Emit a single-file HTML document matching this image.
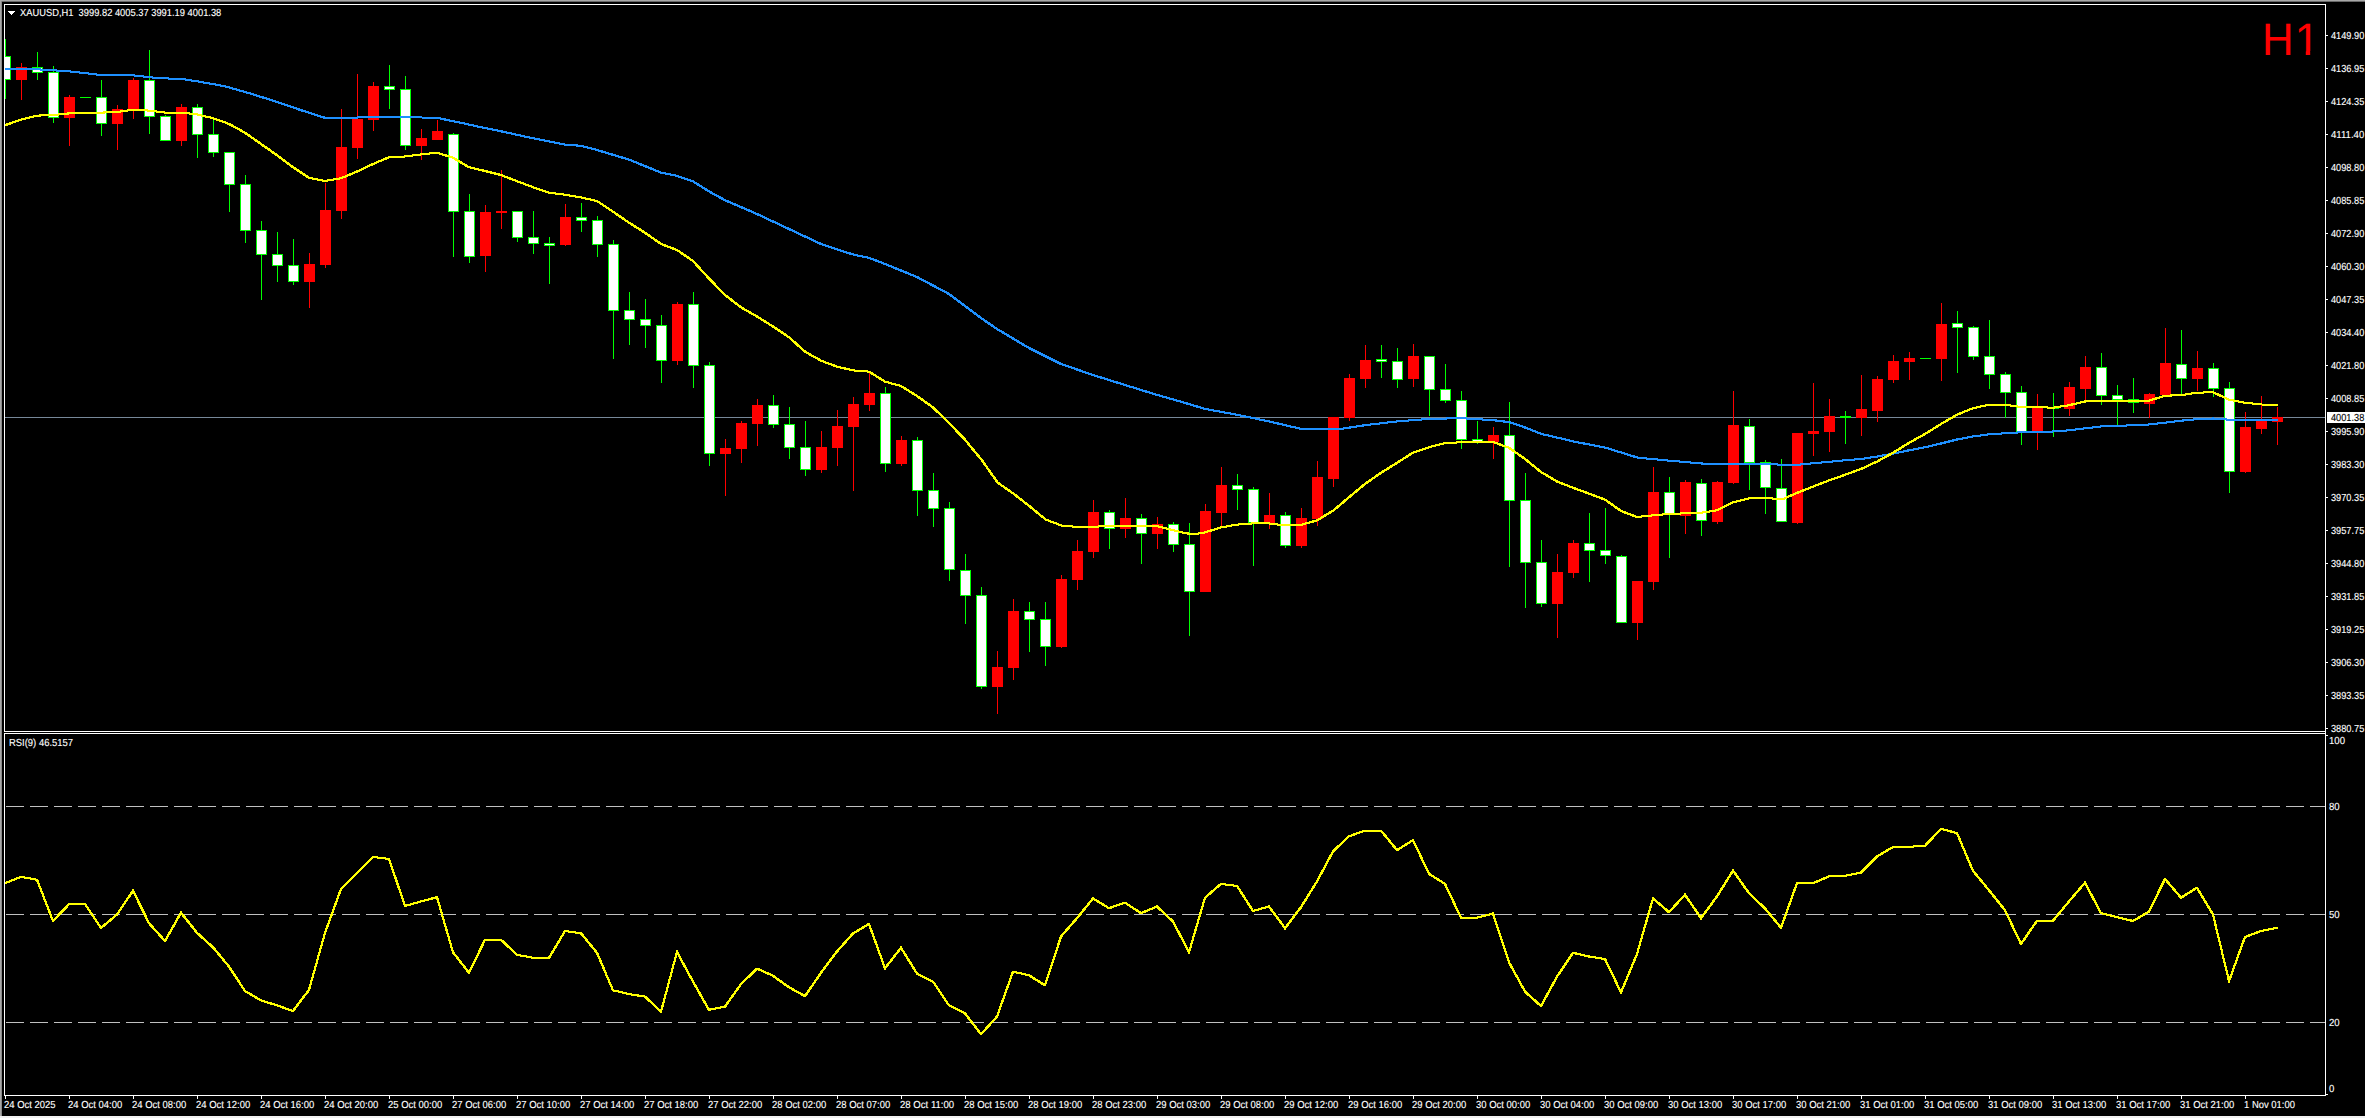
<!DOCTYPE html>
<html><head><meta charset="utf-8"><title>XAUUSD,H1</title>
<style>
html,body{margin:0;padding:0;background:#000;overflow:hidden}
svg{display:block}
text{text-rendering:geometricPrecision;font-family:"Liberation Sans",Arial,sans-serif;font-size:10.2px;fill:#fff;stroke:#fff;stroke-width:0.12px}
.h1{font-size:45.35px;fill:#f00;stroke:none}
.k{fill:#000;stroke:#000;stroke-width:0.12px}
</style></head><body>
<svg width="2365" height="1118" viewBox="0 0 2365 1118">
<rect x="0" y="0" width="2365" height="1118" fill="#000"/>
<g shape-rendering="crispEdges">
<rect x="0" y="0" width="2365" height="1" fill="#a8a8a8"/><rect x="1" y="1" width="2364" height="1" fill="#6a6a6a"/>
<rect x="0" y="0" width="1" height="1116" fill="#a8a8a8"/><rect x="1" y="1" width="1" height="1115" fill="#8a8a8a"/>
<rect x="0" y="1116" width="2365" height="2" fill="#f0f0f0"/>
<rect x="5" y="417" width="2320" height="1" fill="#778899"/>
<rect x="5" y="39" width="1" height="60" fill="#00ff00"/><rect x="5" y="56" width="6" height="24" fill="#00ff00"/><rect x="5" y="57" width="5" height="22" fill="#fff"/>
<rect x="21" y="63" width="1" height="37" fill="#ff0000"/><rect x="16" y="67" width="11" height="13" fill="#ff0000"/>
<rect x="37" y="52" width="1" height="28" fill="#00ff00"/><rect x="32" y="67" width="11" height="6" fill="#00ff00"/><rect x="33" y="68" width="9" height="4" fill="#fff"/>
<rect x="53" y="66" width="1" height="57" fill="#00ff00"/><rect x="48" y="72" width="11" height="46" fill="#00ff00"/><rect x="49" y="73" width="9" height="44" fill="#fff"/>
<rect x="69" y="95" width="1" height="51" fill="#ff0000"/><rect x="64" y="97" width="11" height="21" fill="#ff0000"/>
<rect x="80" y="97" width="11" height="1" fill="#00ff00"/><rect x="101" y="80" width="1" height="56" fill="#00ff00"/><rect x="96" y="97" width="11" height="27" fill="#00ff00"/><rect x="97" y="98" width="9" height="25" fill="#fff"/>
<rect x="117" y="105" width="1" height="45" fill="#ff0000"/><rect x="112" y="109" width="11" height="15" fill="#ff0000"/>
<rect x="133" y="78" width="1" height="41" fill="#ff0000"/><rect x="128" y="80" width="11" height="30" fill="#ff0000"/>
<rect x="149" y="50" width="1" height="84" fill="#00ff00"/><rect x="144" y="80" width="11" height="37" fill="#00ff00"/><rect x="145" y="81" width="9" height="35" fill="#fff"/>
<rect x="165" y="115" width="1" height="26" fill="#00ff00"/><rect x="160" y="116" width="11" height="25" fill="#00ff00"/><rect x="161" y="117" width="9" height="23" fill="#fff"/>
<rect x="181" y="104" width="1" height="42" fill="#ff0000"/><rect x="176" y="107" width="11" height="34" fill="#ff0000"/>
<rect x="197" y="104" width="1" height="54" fill="#00ff00"/><rect x="192" y="107" width="11" height="28" fill="#00ff00"/><rect x="193" y="108" width="9" height="26" fill="#fff"/>
<rect x="213" y="119" width="1" height="38" fill="#00ff00"/><rect x="208" y="134" width="11" height="19" fill="#00ff00"/><rect x="209" y="135" width="9" height="17" fill="#fff"/>
<rect x="229" y="152" width="1" height="60" fill="#00ff00"/><rect x="224" y="152" width="11" height="33" fill="#00ff00"/><rect x="225" y="153" width="9" height="31" fill="#fff"/>
<rect x="245" y="175" width="1" height="68" fill="#00ff00"/><rect x="240" y="184" width="11" height="47" fill="#00ff00"/><rect x="241" y="185" width="9" height="45" fill="#fff"/>
<rect x="261" y="221" width="1" height="79" fill="#00ff00"/><rect x="256" y="230" width="11" height="25" fill="#00ff00"/><rect x="257" y="231" width="9" height="23" fill="#fff"/>
<rect x="277" y="232" width="1" height="50" fill="#00ff00"/><rect x="272" y="254" width="11" height="12" fill="#00ff00"/><rect x="273" y="255" width="9" height="10" fill="#fff"/>
<rect x="293" y="239" width="1" height="46" fill="#00ff00"/><rect x="288" y="265" width="11" height="17" fill="#00ff00"/><rect x="289" y="266" width="9" height="15" fill="#fff"/>
<rect x="309" y="253" width="1" height="55" fill="#ff0000"/><rect x="304" y="264" width="11" height="18" fill="#ff0000"/>
<rect x="325" y="183" width="1" height="85" fill="#ff0000"/><rect x="320" y="210" width="11" height="55" fill="#ff0000"/>
<rect x="341" y="109" width="1" height="110" fill="#ff0000"/><rect x="336" y="147" width="11" height="64" fill="#ff0000"/>
<rect x="357" y="74" width="1" height="85" fill="#ff0000"/><rect x="352" y="119" width="11" height="29" fill="#ff0000"/>
<rect x="373" y="82" width="1" height="49" fill="#ff0000"/><rect x="368" y="86" width="11" height="34" fill="#ff0000"/>
<rect x="389" y="65" width="1" height="44" fill="#00ff00"/><rect x="384" y="86" width="11" height="4" fill="#00ff00"/><rect x="385" y="87" width="9" height="2" fill="#fff"/>
<rect x="405" y="76" width="1" height="74" fill="#00ff00"/><rect x="400" y="89" width="11" height="57" fill="#00ff00"/><rect x="401" y="90" width="9" height="55" fill="#fff"/>
<rect x="421" y="129" width="1" height="31" fill="#ff0000"/><rect x="416" y="138" width="11" height="8" fill="#ff0000"/>
<rect x="437" y="120" width="1" height="20" fill="#ff0000"/><rect x="432" y="131" width="11" height="9" fill="#ff0000"/>
<rect x="453" y="133" width="1" height="124" fill="#00ff00"/><rect x="448" y="134" width="11" height="78" fill="#00ff00"/><rect x="449" y="135" width="9" height="76" fill="#fff"/>
<rect x="469" y="194" width="1" height="69" fill="#00ff00"/><rect x="464" y="211" width="11" height="46" fill="#00ff00"/><rect x="465" y="212" width="9" height="44" fill="#fff"/>
<rect x="485" y="205" width="1" height="67" fill="#ff0000"/><rect x="480" y="212" width="11" height="44" fill="#ff0000"/>
<rect x="501" y="170" width="1" height="59" fill="#ff0000"/><rect x="496" y="211" width="11" height="2" fill="#ff0000"/>
<rect x="517" y="211" width="1" height="31" fill="#00ff00"/><rect x="512" y="211" width="11" height="27" fill="#00ff00"/><rect x="513" y="212" width="9" height="25" fill="#fff"/>
<rect x="533" y="211" width="1" height="43" fill="#00ff00"/><rect x="528" y="237" width="11" height="7" fill="#00ff00"/><rect x="529" y="238" width="9" height="5" fill="#fff"/>
<rect x="549" y="237" width="1" height="47" fill="#00ff00"/><rect x="544" y="243" width="11" height="3" fill="#00ff00"/><rect x="545" y="244" width="9" height="1" fill="#fff"/>
<rect x="565" y="204" width="1" height="42" fill="#ff0000"/><rect x="560" y="217" width="11" height="28" fill="#ff0000"/>
<rect x="581" y="203" width="1" height="29" fill="#00ff00"/><rect x="576" y="217" width="11" height="4" fill="#00ff00"/><rect x="577" y="218" width="9" height="2" fill="#fff"/>
<rect x="597" y="216" width="1" height="41" fill="#00ff00"/><rect x="592" y="220" width="11" height="25" fill="#00ff00"/><rect x="593" y="221" width="9" height="23" fill="#fff"/>
<rect x="613" y="240" width="1" height="119" fill="#00ff00"/><rect x="608" y="244" width="11" height="67" fill="#00ff00"/><rect x="609" y="245" width="9" height="65" fill="#fff"/>
<rect x="629" y="292" width="1" height="53" fill="#00ff00"/><rect x="624" y="310" width="11" height="10" fill="#00ff00"/><rect x="625" y="311" width="9" height="8" fill="#fff"/>
<rect x="645" y="299" width="1" height="49" fill="#00ff00"/><rect x="640" y="319" width="11" height="7" fill="#00ff00"/><rect x="641" y="320" width="9" height="5" fill="#fff"/>
<rect x="661" y="315" width="1" height="68" fill="#00ff00"/><rect x="656" y="325" width="11" height="36" fill="#00ff00"/><rect x="657" y="326" width="9" height="34" fill="#fff"/>
<rect x="677" y="302" width="1" height="63" fill="#ff0000"/><rect x="672" y="304" width="11" height="57" fill="#ff0000"/>
<rect x="693" y="292" width="1" height="96" fill="#00ff00"/><rect x="688" y="304" width="11" height="62" fill="#00ff00"/><rect x="689" y="305" width="9" height="60" fill="#fff"/>
<rect x="709" y="362" width="1" height="104" fill="#00ff00"/><rect x="704" y="365" width="11" height="89" fill="#00ff00"/><rect x="705" y="366" width="9" height="87" fill="#fff"/>
<rect x="725" y="439" width="1" height="57" fill="#ff0000"/><rect x="720" y="448" width="11" height="6" fill="#ff0000"/>
<rect x="741" y="421" width="1" height="42" fill="#ff0000"/><rect x="736" y="423" width="11" height="26" fill="#ff0000"/>
<rect x="757" y="399" width="1" height="47" fill="#ff0000"/><rect x="752" y="405" width="11" height="19" fill="#ff0000"/>
<rect x="773" y="395" width="1" height="33" fill="#00ff00"/><rect x="768" y="405" width="11" height="20" fill="#00ff00"/><rect x="769" y="406" width="9" height="18" fill="#fff"/>
<rect x="789" y="407" width="1" height="52" fill="#00ff00"/><rect x="784" y="424" width="11" height="24" fill="#00ff00"/><rect x="785" y="425" width="9" height="22" fill="#fff"/>
<rect x="805" y="421" width="1" height="55" fill="#00ff00"/><rect x="800" y="447" width="11" height="23" fill="#00ff00"/><rect x="801" y="448" width="9" height="21" fill="#fff"/>
<rect x="821" y="431" width="1" height="42" fill="#ff0000"/><rect x="816" y="447" width="11" height="23" fill="#ff0000"/>
<rect x="837" y="410" width="1" height="56" fill="#ff0000"/><rect x="832" y="426" width="11" height="22" fill="#ff0000"/>
<rect x="853" y="397" width="1" height="94" fill="#ff0000"/><rect x="848" y="404" width="11" height="23" fill="#ff0000"/>
<rect x="869" y="373" width="1" height="38" fill="#ff0000"/><rect x="864" y="393" width="11" height="12" fill="#ff0000"/>
<rect x="885" y="387" width="1" height="85" fill="#00ff00"/><rect x="880" y="393" width="11" height="71" fill="#00ff00"/><rect x="881" y="394" width="9" height="69" fill="#fff"/>
<rect x="901" y="436" width="1" height="30" fill="#ff0000"/><rect x="896" y="440" width="11" height="24" fill="#ff0000"/>
<rect x="917" y="437" width="1" height="79" fill="#00ff00"/><rect x="912" y="440" width="11" height="51" fill="#00ff00"/><rect x="913" y="441" width="9" height="49" fill="#fff"/>
<rect x="933" y="473" width="1" height="54" fill="#00ff00"/><rect x="928" y="490" width="11" height="19" fill="#00ff00"/><rect x="929" y="491" width="9" height="17" fill="#fff"/>
<rect x="949" y="502" width="1" height="79" fill="#00ff00"/><rect x="944" y="508" width="11" height="62" fill="#00ff00"/><rect x="945" y="509" width="9" height="60" fill="#fff"/>
<rect x="965" y="554" width="1" height="70" fill="#00ff00"/><rect x="960" y="570" width="11" height="26" fill="#00ff00"/><rect x="961" y="571" width="9" height="24" fill="#fff"/>
<rect x="981" y="587" width="1" height="102" fill="#00ff00"/><rect x="976" y="595" width="11" height="92" fill="#00ff00"/><rect x="977" y="596" width="9" height="90" fill="#fff"/>
<rect x="997" y="651" width="1" height="63" fill="#ff0000"/><rect x="992" y="667" width="11" height="20" fill="#ff0000"/>
<rect x="1013" y="599" width="1" height="81" fill="#ff0000"/><rect x="1008" y="611" width="11" height="57" fill="#ff0000"/>
<rect x="1029" y="602" width="1" height="50" fill="#00ff00"/><rect x="1024" y="611" width="11" height="9" fill="#00ff00"/><rect x="1025" y="612" width="9" height="7" fill="#fff"/>
<rect x="1045" y="602" width="1" height="64" fill="#00ff00"/><rect x="1040" y="619" width="11" height="28" fill="#00ff00"/><rect x="1041" y="620" width="9" height="26" fill="#fff"/>
<rect x="1061" y="575" width="1" height="73" fill="#ff0000"/><rect x="1056" y="579" width="11" height="68" fill="#ff0000"/>
<rect x="1077" y="540" width="1" height="50" fill="#ff0000"/><rect x="1072" y="551" width="11" height="29" fill="#ff0000"/>
<rect x="1093" y="500" width="1" height="58" fill="#ff0000"/><rect x="1088" y="512" width="11" height="40" fill="#ff0000"/>
<rect x="1109" y="510" width="1" height="39" fill="#00ff00"/><rect x="1104" y="512" width="11" height="17" fill="#00ff00"/><rect x="1105" y="513" width="9" height="15" fill="#fff"/>
<rect x="1125" y="498" width="1" height="40" fill="#ff0000"/><rect x="1120" y="518" width="11" height="11" fill="#ff0000"/>
<rect x="1141" y="514" width="1" height="50" fill="#00ff00"/><rect x="1136" y="518" width="11" height="16" fill="#00ff00"/><rect x="1137" y="519" width="9" height="14" fill="#fff"/>
<rect x="1157" y="517" width="1" height="32" fill="#ff0000"/><rect x="1152" y="524" width="11" height="10" fill="#ff0000"/>
<rect x="1173" y="522" width="1" height="30" fill="#00ff00"/><rect x="1168" y="524" width="11" height="21" fill="#00ff00"/><rect x="1169" y="525" width="9" height="19" fill="#fff"/>
<rect x="1189" y="523" width="1" height="113" fill="#00ff00"/><rect x="1184" y="544" width="11" height="48" fill="#00ff00"/><rect x="1185" y="545" width="9" height="46" fill="#fff"/>
<rect x="1205" y="504" width="1" height="88" fill="#ff0000"/><rect x="1200" y="511" width="11" height="81" fill="#ff0000"/>
<rect x="1221" y="467" width="1" height="60" fill="#ff0000"/><rect x="1216" y="485" width="11" height="28" fill="#ff0000"/>
<rect x="1237" y="474" width="1" height="36" fill="#00ff00"/><rect x="1232" y="485" width="11" height="5" fill="#00ff00"/><rect x="1233" y="486" width="9" height="3" fill="#fff"/>
<rect x="1253" y="487" width="1" height="79" fill="#00ff00"/><rect x="1248" y="489" width="11" height="34" fill="#00ff00"/><rect x="1249" y="490" width="9" height="32" fill="#fff"/>
<rect x="1269" y="493" width="1" height="36" fill="#ff0000"/><rect x="1264" y="515" width="11" height="8" fill="#ff0000"/>
<rect x="1285" y="512" width="1" height="36" fill="#00ff00"/><rect x="1280" y="515" width="11" height="31" fill="#00ff00"/><rect x="1281" y="516" width="9" height="29" fill="#fff"/>
<rect x="1301" y="508" width="1" height="40" fill="#ff0000"/><rect x="1296" y="518" width="11" height="28" fill="#ff0000"/>
<rect x="1317" y="461" width="1" height="65" fill="#ff0000"/><rect x="1312" y="477" width="11" height="42" fill="#ff0000"/>
<rect x="1333" y="417" width="1" height="70" fill="#ff0000"/><rect x="1328" y="417" width="11" height="62" fill="#ff0000"/>
<rect x="1349" y="374" width="1" height="47" fill="#ff0000"/><rect x="1344" y="378" width="11" height="40" fill="#ff0000"/>
<rect x="1365" y="345" width="1" height="43" fill="#ff0000"/><rect x="1360" y="360" width="11" height="19" fill="#ff0000"/>
<rect x="1381" y="345" width="1" height="33" fill="#00ff00"/><rect x="1376" y="359" width="11" height="3" fill="#00ff00"/><rect x="1377" y="360" width="9" height="1" fill="#fff"/>
<rect x="1397" y="348" width="1" height="40" fill="#00ff00"/><rect x="1392" y="361" width="11" height="19" fill="#00ff00"/><rect x="1393" y="362" width="9" height="17" fill="#fff"/>
<rect x="1413" y="344" width="1" height="43" fill="#ff0000"/><rect x="1408" y="356" width="11" height="23" fill="#ff0000"/>
<rect x="1429" y="356" width="1" height="60" fill="#00ff00"/><rect x="1424" y="356" width="11" height="34" fill="#00ff00"/><rect x="1425" y="357" width="9" height="32" fill="#fff"/>
<rect x="1445" y="364" width="1" height="39" fill="#00ff00"/><rect x="1440" y="389" width="11" height="12" fill="#00ff00"/><rect x="1441" y="390" width="9" height="10" fill="#fff"/>
<rect x="1461" y="391" width="1" height="58" fill="#00ff00"/><rect x="1456" y="400" width="11" height="40" fill="#00ff00"/><rect x="1457" y="401" width="9" height="38" fill="#fff"/>
<rect x="1477" y="421" width="1" height="23" fill="#00ff00"/><rect x="1472" y="439" width="11" height="3" fill="#00ff00"/><rect x="1473" y="440" width="9" height="1" fill="#fff"/>
<rect x="1493" y="427" width="1" height="32" fill="#ff0000"/><rect x="1488" y="435" width="11" height="7" fill="#ff0000"/>
<rect x="1509" y="402" width="1" height="165" fill="#00ff00"/><rect x="1504" y="435" width="11" height="66" fill="#00ff00"/><rect x="1505" y="436" width="9" height="64" fill="#fff"/>
<rect x="1525" y="473" width="1" height="135" fill="#00ff00"/><rect x="1520" y="500" width="11" height="63" fill="#00ff00"/><rect x="1521" y="501" width="9" height="61" fill="#fff"/>
<rect x="1541" y="540" width="1" height="67" fill="#00ff00"/><rect x="1536" y="562" width="11" height="42" fill="#00ff00"/><rect x="1537" y="563" width="9" height="40" fill="#fff"/>
<rect x="1557" y="554" width="1" height="84" fill="#ff0000"/><rect x="1552" y="572" width="11" height="32" fill="#ff0000"/>
<rect x="1573" y="540" width="1" height="38" fill="#ff0000"/><rect x="1568" y="543" width="11" height="30" fill="#ff0000"/>
<rect x="1589" y="513" width="1" height="69" fill="#00ff00"/><rect x="1584" y="543" width="11" height="8" fill="#00ff00"/><rect x="1585" y="544" width="9" height="6" fill="#fff"/>
<rect x="1605" y="508" width="1" height="56" fill="#00ff00"/><rect x="1600" y="550" width="11" height="6" fill="#00ff00"/><rect x="1601" y="551" width="9" height="4" fill="#fff"/>
<rect x="1621" y="555" width="1" height="68" fill="#00ff00"/><rect x="1616" y="556" width="11" height="67" fill="#00ff00"/><rect x="1617" y="557" width="9" height="65" fill="#fff"/>
<rect x="1637" y="581" width="1" height="59" fill="#ff0000"/><rect x="1632" y="581" width="11" height="42" fill="#ff0000"/>
<rect x="1653" y="467" width="1" height="123" fill="#ff0000"/><rect x="1648" y="492" width="11" height="90" fill="#ff0000"/>
<rect x="1669" y="477" width="1" height="81" fill="#00ff00"/><rect x="1664" y="492" width="11" height="23" fill="#00ff00"/><rect x="1665" y="493" width="9" height="21" fill="#fff"/>
<rect x="1685" y="480" width="1" height="54" fill="#ff0000"/><rect x="1680" y="482" width="11" height="34" fill="#ff0000"/>
<rect x="1701" y="479" width="1" height="57" fill="#00ff00"/><rect x="1696" y="483" width="11" height="38" fill="#00ff00"/><rect x="1697" y="484" width="9" height="36" fill="#fff"/>
<rect x="1717" y="481" width="1" height="43" fill="#ff0000"/><rect x="1712" y="482" width="11" height="40" fill="#ff0000"/>
<rect x="1733" y="391" width="1" height="93" fill="#ff0000"/><rect x="1728" y="425" width="11" height="58" fill="#ff0000"/>
<rect x="1749" y="419" width="1" height="71" fill="#00ff00"/><rect x="1744" y="426" width="11" height="37" fill="#00ff00"/><rect x="1745" y="427" width="9" height="35" fill="#fff"/>
<rect x="1765" y="460" width="1" height="54" fill="#00ff00"/><rect x="1760" y="462" width="11" height="26" fill="#00ff00"/><rect x="1761" y="463" width="9" height="24" fill="#fff"/>
<rect x="1781" y="459" width="1" height="63" fill="#00ff00"/><rect x="1776" y="488" width="11" height="34" fill="#00ff00"/><rect x="1777" y="489" width="9" height="32" fill="#fff"/>
<rect x="1797" y="433" width="1" height="91" fill="#ff0000"/><rect x="1792" y="433" width="11" height="90" fill="#ff0000"/>
<rect x="1813" y="383" width="1" height="73" fill="#ff0000"/><rect x="1808" y="431" width="11" height="3" fill="#ff0000"/>
<rect x="1829" y="399" width="1" height="53" fill="#ff0000"/><rect x="1824" y="416" width="11" height="16" fill="#ff0000"/>
<rect x="1845" y="411" width="1" height="33" fill="#00ff00"/><rect x="1840" y="416" width="11" height="2" fill="#00ff00"/>
<rect x="1861" y="375" width="1" height="61" fill="#ff0000"/><rect x="1856" y="409" width="11" height="9" fill="#ff0000"/>
<rect x="1877" y="376" width="1" height="46" fill="#ff0000"/><rect x="1872" y="379" width="11" height="32" fill="#ff0000"/>
<rect x="1893" y="355" width="1" height="28" fill="#ff0000"/><rect x="1888" y="361" width="11" height="19" fill="#ff0000"/>
<rect x="1909" y="352" width="1" height="28" fill="#ff0000"/><rect x="1904" y="358" width="11" height="4" fill="#ff0000"/>
<rect x="1920" y="358" width="11" height="1" fill="#00ff00"/><rect x="1941" y="303" width="1" height="78" fill="#ff0000"/><rect x="1936" y="324" width="11" height="35" fill="#ff0000"/>
<rect x="1957" y="311" width="1" height="62" fill="#00ff00"/><rect x="1952" y="323" width="11" height="5" fill="#00ff00"/><rect x="1953" y="324" width="9" height="3" fill="#fff"/>
<rect x="1973" y="326" width="1" height="34" fill="#00ff00"/><rect x="1968" y="327" width="11" height="30" fill="#00ff00"/><rect x="1969" y="328" width="9" height="28" fill="#fff"/>
<rect x="1989" y="320" width="1" height="69" fill="#00ff00"/><rect x="1984" y="356" width="11" height="19" fill="#00ff00"/><rect x="1985" y="357" width="9" height="17" fill="#fff"/>
<rect x="2005" y="372" width="1" height="46" fill="#00ff00"/><rect x="2000" y="374" width="11" height="19" fill="#00ff00"/><rect x="2001" y="375" width="9" height="17" fill="#fff"/>
<rect x="2021" y="386" width="1" height="59" fill="#00ff00"/><rect x="2016" y="392" width="11" height="40" fill="#00ff00"/><rect x="2017" y="393" width="9" height="38" fill="#fff"/>
<rect x="2037" y="394" width="1" height="56" fill="#ff0000"/><rect x="2032" y="406" width="11" height="26" fill="#ff0000"/>
<rect x="2053" y="393" width="1" height="44" fill="#00ff00"/><rect x="2048" y="407" width="11" height="2" fill="#00ff00"/>
<rect x="2069" y="382" width="1" height="34" fill="#ff0000"/><rect x="2064" y="387" width="11" height="22" fill="#ff0000"/>
<rect x="2085" y="356" width="1" height="45" fill="#ff0000"/><rect x="2080" y="367" width="11" height="22" fill="#ff0000"/>
<rect x="2101" y="353" width="1" height="52" fill="#00ff00"/><rect x="2096" y="367" width="11" height="29" fill="#00ff00"/><rect x="2097" y="368" width="9" height="27" fill="#fff"/>
<rect x="2117" y="385" width="1" height="40" fill="#00ff00"/><rect x="2112" y="395" width="11" height="5" fill="#00ff00"/><rect x="2113" y="396" width="9" height="3" fill="#fff"/>
<rect x="2133" y="378" width="1" height="35" fill="#00ff00"/><rect x="2128" y="399" width="11" height="4" fill="#00ff00"/><rect x="2129" y="400" width="9" height="2" fill="#fff"/>
<rect x="2149" y="393" width="1" height="25" fill="#ff0000"/><rect x="2144" y="394" width="11" height="10" fill="#ff0000"/>
<rect x="2165" y="328" width="1" height="67" fill="#ff0000"/><rect x="2160" y="363" width="11" height="32" fill="#ff0000"/>
<rect x="2181" y="330" width="1" height="65" fill="#00ff00"/><rect x="2176" y="364" width="11" height="15" fill="#00ff00"/><rect x="2177" y="365" width="9" height="13" fill="#fff"/>
<rect x="2197" y="351" width="1" height="40" fill="#ff0000"/><rect x="2192" y="368" width="11" height="11" fill="#ff0000"/>
<rect x="2213" y="363" width="1" height="34" fill="#00ff00"/><rect x="2208" y="368" width="11" height="21" fill="#00ff00"/><rect x="2209" y="369" width="9" height="19" fill="#fff"/>
<rect x="2229" y="382" width="1" height="111" fill="#00ff00"/><rect x="2224" y="388" width="11" height="84" fill="#00ff00"/><rect x="2225" y="389" width="9" height="82" fill="#fff"/>
<rect x="2245" y="412" width="1" height="61" fill="#ff0000"/><rect x="2240" y="427" width="11" height="45" fill="#ff0000"/>
<rect x="2261" y="396" width="1" height="38" fill="#ff0000"/><rect x="2256" y="421" width="11" height="8" fill="#ff0000"/>
<rect x="2277" y="407" width="1" height="38" fill="#ff0000"/><rect x="2272" y="417" width="11" height="5" fill="#ff0000"/>
<line x1="6" y1="806.5" x2="2325" y2="806.5" stroke="#c0c0c0" stroke-width="1" stroke-dasharray="18 6"/><line x1="6" y1="914.5" x2="2325" y2="914.5" stroke="#c0c0c0" stroke-width="1" stroke-dasharray="18 6"/><line x1="6" y1="1022.5" x2="2325" y2="1022.5" stroke="#c0c0c0" stroke-width="1" stroke-dasharray="18 6"/>
<rect x="2326" y="35" width="2" height="1" fill="#fff"/><rect x="2326" y="68" width="2" height="1" fill="#fff"/><rect x="2326" y="101" width="2" height="1" fill="#fff"/><rect x="2326" y="134" width="2" height="1" fill="#fff"/><rect x="2326" y="167" width="2" height="1" fill="#fff"/><rect x="2326" y="200" width="2" height="1" fill="#fff"/><rect x="2326" y="233" width="2" height="1" fill="#fff"/><rect x="2326" y="266" width="2" height="1" fill="#fff"/><rect x="2326" y="299" width="2" height="1" fill="#fff"/><rect x="2326" y="332" width="2" height="1" fill="#fff"/><rect x="2326" y="365" width="2" height="1" fill="#fff"/><rect x="2326" y="398" width="2" height="1" fill="#fff"/><rect x="2326" y="431" width="2" height="1" fill="#fff"/><rect x="2326" y="464" width="2" height="1" fill="#fff"/><rect x="2326" y="497" width="2" height="1" fill="#fff"/><rect x="2326" y="530" width="2" height="1" fill="#fff"/><rect x="2326" y="563" width="2" height="1" fill="#fff"/><rect x="2326" y="596" width="2" height="1" fill="#fff"/><rect x="2326" y="629" width="2" height="1" fill="#fff"/><rect x="2326" y="662" width="2" height="1" fill="#fff"/><rect x="2326" y="695" width="2" height="1" fill="#fff"/><rect x="2326" y="728" width="2" height="1" fill="#fff"/><rect x="2326" y="735" width="2" height="1" fill="#fff"/><rect x="2326" y="1094" width="2" height="1" fill="#fff"/><rect x="5" y="1096" width="1" height="3" fill="#fff"/><rect x="69" y="1096" width="1" height="3" fill="#fff"/><rect x="133" y="1096" width="1" height="3" fill="#fff"/><rect x="197" y="1096" width="1" height="3" fill="#fff"/><rect x="261" y="1096" width="1" height="3" fill="#fff"/><rect x="325" y="1096" width="1" height="3" fill="#fff"/><rect x="389" y="1096" width="1" height="3" fill="#fff"/><rect x="453" y="1096" width="1" height="3" fill="#fff"/><rect x="517" y="1096" width="1" height="3" fill="#fff"/><rect x="581" y="1096" width="1" height="3" fill="#fff"/><rect x="645" y="1096" width="1" height="3" fill="#fff"/><rect x="709" y="1096" width="1" height="3" fill="#fff"/><rect x="773" y="1096" width="1" height="3" fill="#fff"/><rect x="837" y="1096" width="1" height="3" fill="#fff"/><rect x="901" y="1096" width="1" height="3" fill="#fff"/><rect x="965" y="1096" width="1" height="3" fill="#fff"/><rect x="1029" y="1096" width="1" height="3" fill="#fff"/><rect x="1093" y="1096" width="1" height="3" fill="#fff"/><rect x="1157" y="1096" width="1" height="3" fill="#fff"/><rect x="1221" y="1096" width="1" height="3" fill="#fff"/><rect x="1285" y="1096" width="1" height="3" fill="#fff"/><rect x="1349" y="1096" width="1" height="3" fill="#fff"/><rect x="1413" y="1096" width="1" height="3" fill="#fff"/><rect x="1477" y="1096" width="1" height="3" fill="#fff"/><rect x="1541" y="1096" width="1" height="3" fill="#fff"/><rect x="1605" y="1096" width="1" height="3" fill="#fff"/><rect x="1669" y="1096" width="1" height="3" fill="#fff"/><rect x="1733" y="1096" width="1" height="3" fill="#fff"/><rect x="1797" y="1096" width="1" height="3" fill="#fff"/><rect x="1861" y="1096" width="1" height="3" fill="#fff"/><rect x="1925" y="1096" width="1" height="3" fill="#fff"/><rect x="1989" y="1096" width="1" height="3" fill="#fff"/><rect x="2053" y="1096" width="1" height="3" fill="#fff"/><rect x="2117" y="1096" width="1" height="3" fill="#fff"/><rect x="2181" y="1096" width="1" height="3" fill="#fff"/><rect x="2245" y="1096" width="1" height="3" fill="#fff"/>
<g fill="none" stroke="#1e90ff" stroke-width="1"><polyline points="4.5,68.8 36.5,68.8 68.5,70.8 100.5,74.5 132.5,74.8 159.5,77.8 180.5,78.3 199.5,81.3 224.5,85.8 249.5,92.9 275.0,100.9 300.0,109.5 325.1,117.5 341.1,117.5 373.2,116.5 405.2,116.5 437.3,117.5 469.3,124.2 479.5,126.5 500.5,130.8 532.5,137.8 564.5,144.1 580.5,145.3 596.5,149.5 628.5,159.1 660.5,172.1 676.5,175.4 692.5,180.9 708.5,190.9 724.5,199.7 756.5,213.5 788.5,228.5 820.5,243.5 852.5,254.0 868.5,257.3 884.5,263.5 916.5,276.5 948.5,293.5 980.5,317.5 996.5,328.5 1028.5,347.5 1044.5,355.5 1060.5,363.5 1092.5,374.5 1124.5,384.5 1156.5,394.4 1183.5,402.1 1204.5,408.4 1236.5,414.2 1268.5,420.9 1300.5,428.4 1316.5,428.7 1338.5,428.7 1364.5,424.7 1396.5,420.9 1428.5,418.4 1460.5,417.7 1493.0,419.7 1509.1,421.7 1525.1,427.2 1541.1,433.5 1557.2,437.2 1573.2,441.0 1605.2,447.2 1637.3,457.2 1669.3,460.2 1701.5,463.0 1733.5,463.0 1765.5,463.0 1780.5,464.3 1796.5,464.3 1812.5,462.8 1844.5,459.8 1860.5,458.5 1876.5,456.1 1892.5,453.1 1908.5,449.8 1924.5,446.8 1940.5,443.0 1956.5,439.0 1972.5,436.0 1988.5,433.8 2004.5,432.8 2020.5,431.8 2036.5,431.5 2052.5,431.0 2068.5,429.8 2084.5,427.8 2100.5,426.0 2116.5,425.3 2132.5,424.8 2148.5,424.0 2164.5,422.2 2180.5,420.2 2196.5,418.7 2212.5,418.0 2228.5,419.2 2244.5,419.2 2260.5,419.2 2276.5,419.2 2277.1,419.2"/><polyline points="5.5,68.8 37.5,68.8 69.5,70.8 101.5,74.5 133.5,74.8 160.5,77.8 181.5,78.3 200.5,81.3 225.5,85.8 250.5,92.9 276.0,100.9 301.0,109.5 326.1,117.5 342.1,117.5 374.2,116.5 406.2,116.5 438.3,117.5 470.3,124.2 480.5,126.5 501.5,130.8 533.5,137.8 565.5,144.1 581.5,145.3 597.5,149.5 629.5,159.1 661.5,172.1 677.5,175.4 693.5,180.9 709.5,190.9 725.5,199.7 757.5,213.5 789.5,228.5 821.5,243.5 853.5,254.0 869.5,257.3 885.5,263.5 917.5,276.5 949.5,293.5 981.5,317.5 997.5,328.5 1029.5,347.5 1045.5,355.5 1061.5,363.5 1093.5,374.5 1125.5,384.5 1157.5,394.4 1184.5,402.1 1205.5,408.4 1237.5,414.2 1269.5,420.9 1301.5,428.4 1317.5,428.7 1339.5,428.7 1365.5,424.7 1397.5,420.9 1429.5,418.4 1461.5,417.7 1494.0,419.7 1510.1,421.7 1526.1,427.2 1542.1,433.5 1558.2,437.2 1574.2,441.0 1606.2,447.2 1638.3,457.2 1670.3,460.2 1702.5,463.0 1734.5,463.0 1766.5,463.0 1781.5,464.3 1797.5,464.3 1813.5,462.8 1845.5,459.8 1861.5,458.5 1877.5,456.1 1893.5,453.1 1909.5,449.8 1925.5,446.8 1941.5,443.0 1957.5,439.0 1973.5,436.0 1989.5,433.8 2005.5,432.8 2021.5,431.8 2037.5,431.5 2053.5,431.0 2069.5,429.8 2085.5,427.8 2101.5,426.0 2117.5,425.3 2133.5,424.8 2149.5,424.0 2165.5,422.2 2181.5,420.2 2197.5,418.7 2213.5,418.0 2229.5,419.2 2245.5,419.2 2261.5,419.2 2277.5,419.2 2278.1,419.2"/><polyline points="4.5,69.8 36.5,69.8 68.5,71.8 100.5,75.5 132.5,75.8 159.5,78.8 180.5,79.3 199.5,82.3 224.5,86.8 249.5,93.9 275.0,101.9 300.0,110.5 325.1,118.5 341.1,118.5 373.2,117.5 405.2,117.5 437.3,118.5 469.3,125.2 479.5,127.5 500.5,131.8 532.5,138.8 564.5,145.1 580.5,146.3 596.5,150.5 628.5,160.1 660.5,173.1 676.5,176.4 692.5,181.9 708.5,191.9 724.5,200.7 756.5,214.5 788.5,229.5 820.5,244.5 852.5,255.0 868.5,258.3 884.5,264.5 916.5,277.5 948.5,294.5 980.5,318.5 996.5,329.5 1028.5,348.5 1044.5,356.5 1060.5,364.5 1092.5,375.5 1124.5,385.5 1156.5,395.4 1183.5,403.1 1204.5,409.4 1236.5,415.2 1268.5,421.9 1300.5,429.4 1316.5,429.7 1338.5,429.7 1364.5,425.7 1396.5,421.9 1428.5,419.4 1460.5,418.7 1493.0,420.7 1509.1,422.7 1525.1,428.2 1541.1,434.5 1557.2,438.2 1573.2,442.0 1605.2,448.2 1637.3,458.2 1669.3,461.2 1701.5,464.0 1733.5,464.0 1765.5,464.0 1780.5,465.3 1796.5,465.3 1812.5,463.8 1844.5,460.8 1860.5,459.5 1876.5,457.1 1892.5,454.1 1908.5,450.8 1924.5,447.8 1940.5,444.0 1956.5,440.0 1972.5,437.0 1988.5,434.8 2004.5,433.8 2020.5,432.8 2036.5,432.5 2052.5,432.0 2068.5,430.8 2084.5,428.8 2100.5,427.0 2116.5,426.3 2132.5,425.8 2148.5,425.0 2164.5,423.2 2180.5,421.2 2196.5,419.7 2212.5,419.0 2228.5,420.2 2244.5,420.2 2260.5,420.2 2276.5,420.2 2277.1,420.2"/><polyline points="5.5,69.8 37.5,69.8 69.5,71.8 101.5,75.5 133.5,75.8 160.5,78.8 181.5,79.3 200.5,82.3 225.5,86.8 250.5,93.9 276.0,101.9 301.0,110.5 326.1,118.5 342.1,118.5 374.2,117.5 406.2,117.5 438.3,118.5 470.3,125.2 480.5,127.5 501.5,131.8 533.5,138.8 565.5,145.1 581.5,146.3 597.5,150.5 629.5,160.1 661.5,173.1 677.5,176.4 693.5,181.9 709.5,191.9 725.5,200.7 757.5,214.5 789.5,229.5 821.5,244.5 853.5,255.0 869.5,258.3 885.5,264.5 917.5,277.5 949.5,294.5 981.5,318.5 997.5,329.5 1029.5,348.5 1045.5,356.5 1061.5,364.5 1093.5,375.5 1125.5,385.5 1157.5,395.4 1184.5,403.1 1205.5,409.4 1237.5,415.2 1269.5,421.9 1301.5,429.4 1317.5,429.7 1339.5,429.7 1365.5,425.7 1397.5,421.9 1429.5,419.4 1461.5,418.7 1494.0,420.7 1510.1,422.7 1526.1,428.2 1542.1,434.5 1558.2,438.2 1574.2,442.0 1606.2,448.2 1638.3,458.2 1670.3,461.2 1702.5,464.0 1734.5,464.0 1766.5,464.0 1781.5,465.3 1797.5,465.3 1813.5,463.8 1845.5,460.8 1861.5,459.5 1877.5,457.1 1893.5,454.1 1909.5,450.8 1925.5,447.8 1941.5,444.0 1957.5,440.0 1973.5,437.0 1989.5,434.8 2005.5,433.8 2021.5,432.8 2037.5,432.5 2053.5,432.0 2069.5,430.8 2085.5,428.8 2101.5,427.0 2117.5,426.3 2133.5,425.8 2149.5,425.0 2165.5,423.2 2181.5,421.2 2197.5,419.7 2213.5,419.0 2229.5,420.2 2245.5,420.2 2261.5,420.2 2277.5,420.2 2278.1,420.2"/></g>
<g fill="none" stroke="#ffff00" stroke-width="1"><polyline points="4.5,124.7 20.5,119.2 36.5,115.1 52.5,114.6 68.5,112.9 100.5,112.1 116.5,111.6 132.5,109.1 148.5,110.1 164.5,112.1 180.5,112.1 196.5,113.9 212.5,117.7 228.5,123.4 244.5,132.2 260.5,143.5 276.5,154.7 292.5,166.7 308.5,177.3 324.5,180.5 340.5,177.8 356.5,171.0 372.5,163.5 388.5,156.7 404.5,156.0 420.5,154.0 436.5,152.2 452.5,157.2 468.5,166.7 484.5,170.5 500.5,174.5 516.5,180.7 532.5,186.7 548.5,192.2 564.5,194.2 580.5,196.9 596.5,200.5 612.5,211.2 628.5,222.2 644.5,232.2 660.5,243.5 676.5,249.5 692.5,260.5 708.5,278.0 724.5,294.5 740.5,306.8 756.5,316.0 772.5,326.0 788.5,336.8 804.5,351.1 820.5,360.2 836.5,366.1 852.5,369.9 868.5,371.1 884.5,381.1 900.5,385.5 916.5,395.5 932.5,406.9 948.5,422.5 964.5,439.2 981.2,459.5 997.2,482.1 1013.2,493.3 1029.3,505.9 1045.3,519.1 1061.3,525.1 1077.4,526.5 1093.4,526.1 1125.5,525.5 1157.5,525.9 1183.5,532.4 1193.5,533.9 1204.5,531.9 1220.5,526.9 1236.5,524.1 1252.5,522.9 1268.5,522.9 1284.5,524.9 1300.5,524.4 1316.5,519.9 1332.5,510.3 1348.5,496.8 1364.5,483.5 1380.5,472.3 1396.5,462.3 1412.5,452.2 1428.5,446.7 1444.5,442.7 1460.5,441.7 1476.5,441.5 1492.5,441.5 1508.5,447.2 1524.5,458.5 1540.5,471.5 1556.5,481.0 1572.5,487.3 1588.5,493.1 1604.5,499.1 1620.5,510.5 1636.5,516.5 1652.5,514.8 1668.5,513.5 1684.5,512.8 1700.5,512.3 1716.5,509.8 1732.5,501.8 1748.5,497.8 1764.5,497.3 1772.5,498.1 1782.5,498.5 1796.5,492.4 1812.5,486.1 1828.5,479.9 1844.5,474.3 1860.5,468.5 1876.5,461.1 1892.5,452.3 1908.5,442.3 1924.5,433.5 1940.5,423.5 1956.5,414.2 1972.5,407.7 1988.5,404.2 2004.5,404.2 2020.5,406.5 2036.5,406.7 2052.5,407.2 2068.5,404.7 2084.5,401.0 2100.5,400.5 2116.5,400.2 2132.5,400.5 2148.5,400.2 2164.5,395.2 2180.5,394.7 2196.5,392.2 2212.5,391.7 2228.5,399.2 2244.5,402.2 2260.5,404.0 2276.5,404.2 2277.1,404.2"/><polyline points="5.5,124.7 21.5,119.2 37.5,115.1 53.5,114.6 69.5,112.9 101.5,112.1 117.5,111.6 133.5,109.1 149.5,110.1 165.5,112.1 181.5,112.1 197.5,113.9 213.5,117.7 229.5,123.4 245.5,132.2 261.5,143.5 277.5,154.7 293.5,166.7 309.5,177.3 325.5,180.5 341.5,177.8 357.5,171.0 373.5,163.5 389.5,156.7 405.5,156.0 421.5,154.0 437.5,152.2 453.5,157.2 469.5,166.7 485.5,170.5 501.5,174.5 517.5,180.7 533.5,186.7 549.5,192.2 565.5,194.2 581.5,196.9 597.5,200.5 613.5,211.2 629.5,222.2 645.5,232.2 661.5,243.5 677.5,249.5 693.5,260.5 709.5,278.0 725.5,294.5 741.5,306.8 757.5,316.0 773.5,326.0 789.5,336.8 805.5,351.1 821.5,360.2 837.5,366.1 853.5,369.9 869.5,371.1 885.5,381.1 901.5,385.5 917.5,395.5 933.5,406.9 949.5,422.5 965.5,439.2 982.2,459.5 998.2,482.1 1014.2,493.3 1030.3,505.9 1046.3,519.1 1062.3,525.1 1078.4,526.5 1094.4,526.1 1126.5,525.5 1158.5,525.9 1184.5,532.4 1194.5,533.9 1205.5,531.9 1221.5,526.9 1237.5,524.1 1253.5,522.9 1269.5,522.9 1285.5,524.9 1301.5,524.4 1317.5,519.9 1333.5,510.3 1349.5,496.8 1365.5,483.5 1381.5,472.3 1397.5,462.3 1413.5,452.2 1429.5,446.7 1445.5,442.7 1461.5,441.7 1477.5,441.5 1493.5,441.5 1509.5,447.2 1525.5,458.5 1541.5,471.5 1557.5,481.0 1573.5,487.3 1589.5,493.1 1605.5,499.1 1621.5,510.5 1637.5,516.5 1653.5,514.8 1669.5,513.5 1685.5,512.8 1701.5,512.3 1717.5,509.8 1733.5,501.8 1749.5,497.8 1765.5,497.3 1773.5,498.1 1783.5,498.5 1797.5,492.4 1813.5,486.1 1829.5,479.9 1845.5,474.3 1861.5,468.5 1877.5,461.1 1893.5,452.3 1909.5,442.3 1925.5,433.5 1941.5,423.5 1957.5,414.2 1973.5,407.7 1989.5,404.2 2005.5,404.2 2021.5,406.5 2037.5,406.7 2053.5,407.2 2069.5,404.7 2085.5,401.0 2101.5,400.5 2117.5,400.2 2133.5,400.5 2149.5,400.2 2165.5,395.2 2181.5,394.7 2197.5,392.2 2213.5,391.7 2229.5,399.2 2245.5,402.2 2261.5,404.0 2277.5,404.2 2278.1,404.2"/><polyline points="4.5,125.7 20.5,120.2 36.5,116.1 52.5,115.6 68.5,113.9 100.5,113.1 116.5,112.6 132.5,110.1 148.5,111.1 164.5,113.1 180.5,113.1 196.5,114.9 212.5,118.7 228.5,124.4 244.5,133.2 260.5,144.5 276.5,155.7 292.5,167.7 308.5,178.3 324.5,181.5 340.5,178.8 356.5,172.0 372.5,164.5 388.5,157.7 404.5,157.0 420.5,155.0 436.5,153.2 452.5,158.2 468.5,167.7 484.5,171.5 500.5,175.5 516.5,181.7 532.5,187.7 548.5,193.2 564.5,195.2 580.5,197.9 596.5,201.5 612.5,212.2 628.5,223.2 644.5,233.2 660.5,244.5 676.5,250.5 692.5,261.5 708.5,279.0 724.5,295.5 740.5,307.8 756.5,317.0 772.5,327.0 788.5,337.8 804.5,352.1 820.5,361.2 836.5,367.1 852.5,370.9 868.5,372.1 884.5,382.1 900.5,386.5 916.5,396.5 932.5,407.9 948.5,423.5 964.5,440.2 981.2,460.5 997.2,483.1 1013.2,494.3 1029.3,506.9 1045.3,520.1 1061.3,526.1 1077.4,527.5 1093.4,527.1 1125.5,526.5 1157.5,526.9 1183.5,533.4 1193.5,534.9 1204.5,532.9 1220.5,527.9 1236.5,525.1 1252.5,523.9 1268.5,523.9 1284.5,525.9 1300.5,525.4 1316.5,520.9 1332.5,511.3 1348.5,497.8 1364.5,484.5 1380.5,473.3 1396.5,463.3 1412.5,453.2 1428.5,447.7 1444.5,443.7 1460.5,442.7 1476.5,442.5 1492.5,442.5 1508.5,448.2 1524.5,459.5 1540.5,472.5 1556.5,482.0 1572.5,488.3 1588.5,494.1 1604.5,500.1 1620.5,511.5 1636.5,517.5 1652.5,515.8 1668.5,514.5 1684.5,513.8 1700.5,513.3 1716.5,510.8 1732.5,502.8 1748.5,498.8 1764.5,498.3 1772.5,499.1 1782.5,499.5 1796.5,493.4 1812.5,487.1 1828.5,480.9 1844.5,475.3 1860.5,469.5 1876.5,462.1 1892.5,453.3 1908.5,443.3 1924.5,434.5 1940.5,424.5 1956.5,415.2 1972.5,408.7 1988.5,405.2 2004.5,405.2 2020.5,407.5 2036.5,407.7 2052.5,408.2 2068.5,405.7 2084.5,402.0 2100.5,401.5 2116.5,401.2 2132.5,401.5 2148.5,401.2 2164.5,396.2 2180.5,395.7 2196.5,393.2 2212.5,392.7 2228.5,400.2 2244.5,403.2 2260.5,405.0 2276.5,405.2 2277.1,405.2"/><polyline points="5.5,125.7 21.5,120.2 37.5,116.1 53.5,115.6 69.5,113.9 101.5,113.1 117.5,112.6 133.5,110.1 149.5,111.1 165.5,113.1 181.5,113.1 197.5,114.9 213.5,118.7 229.5,124.4 245.5,133.2 261.5,144.5 277.5,155.7 293.5,167.7 309.5,178.3 325.5,181.5 341.5,178.8 357.5,172.0 373.5,164.5 389.5,157.7 405.5,157.0 421.5,155.0 437.5,153.2 453.5,158.2 469.5,167.7 485.5,171.5 501.5,175.5 517.5,181.7 533.5,187.7 549.5,193.2 565.5,195.2 581.5,197.9 597.5,201.5 613.5,212.2 629.5,223.2 645.5,233.2 661.5,244.5 677.5,250.5 693.5,261.5 709.5,279.0 725.5,295.5 741.5,307.8 757.5,317.0 773.5,327.0 789.5,337.8 805.5,352.1 821.5,361.2 837.5,367.1 853.5,370.9 869.5,372.1 885.5,382.1 901.5,386.5 917.5,396.5 933.5,407.9 949.5,423.5 965.5,440.2 982.2,460.5 998.2,483.1 1014.2,494.3 1030.3,506.9 1046.3,520.1 1062.3,526.1 1078.4,527.5 1094.4,527.1 1126.5,526.5 1158.5,526.9 1184.5,533.4 1194.5,534.9 1205.5,532.9 1221.5,527.9 1237.5,525.1 1253.5,523.9 1269.5,523.9 1285.5,525.9 1301.5,525.4 1317.5,520.9 1333.5,511.3 1349.5,497.8 1365.5,484.5 1381.5,473.3 1397.5,463.3 1413.5,453.2 1429.5,447.7 1445.5,443.7 1461.5,442.7 1477.5,442.5 1493.5,442.5 1509.5,448.2 1525.5,459.5 1541.5,472.5 1557.5,482.0 1573.5,488.3 1589.5,494.1 1605.5,500.1 1621.5,511.5 1637.5,517.5 1653.5,515.8 1669.5,514.5 1685.5,513.8 1701.5,513.3 1717.5,510.8 1733.5,502.8 1749.5,498.8 1765.5,498.3 1773.5,499.1 1783.5,499.5 1797.5,493.4 1813.5,487.1 1829.5,480.9 1845.5,475.3 1861.5,469.5 1877.5,462.1 1893.5,453.3 1909.5,443.3 1925.5,434.5 1941.5,424.5 1957.5,415.2 1973.5,408.7 1989.5,405.2 2005.5,405.2 2021.5,407.5 2037.5,407.7 2053.5,408.2 2069.5,405.7 2085.5,402.0 2101.5,401.5 2117.5,401.2 2133.5,401.5 2149.5,401.2 2165.5,396.2 2181.5,395.7 2197.5,393.2 2213.5,392.7 2229.5,400.2 2245.5,403.2 2261.5,405.0 2277.5,405.2 2278.1,405.2"/></g>
<g fill="none" stroke="#ffff00" stroke-width="1"><polyline points="4.5,882.7 20.5,876.4 36.5,879.2 52.5,920.5 68.5,903.7 84.5,903.5 100.5,927.5 116.5,914.0 132.5,890.2 148.5,922.7 164.5,940.5 180.5,912.2 196.5,932.3 212.5,946.8 228.5,966.1 244.5,990.5 260.5,999.9 276.5,1004.9 292.5,1010.5 308.5,989.4 324.5,932.3 340.5,888.4 356.5,872.5 372.5,856.4 388.5,858.4 404.5,905.5 420.5,900.9 436.5,896.7 452.5,951.8 468.5,972.3 484.5,939.3 500.5,939.3 516.5,954.3 532.5,957.3 548.5,957.3 564.5,930.5 580.5,932.8 596.5,952.3 612.5,989.8 628.5,993.6 644.5,996.1 660.5,1011.1 676.5,951.5 692.5,981.1 708.5,1009.4 724.5,1006.1 740.5,983.6 756.5,968.1 772.5,975.3 788.5,986.8 804.5,995.6 820.5,972.3 836.5,951.0 852.5,933.0 868.5,923.5 884.5,967.8 900.5,947.3 916.5,973.1 932.5,981.1 948.5,1004.9 964.5,1012.9 980.5,1033.7 996.5,1016.1 1012.5,971.1 1028.5,974.8 1044.5,984.8 1060.5,936.0 1076.5,917.7 1092.5,897.9 1108.5,907.7 1124.5,902.2 1140.5,912.7 1156.5,906.0 1172.5,921.0 1188.5,951.8 1204.5,897.2 1220.5,883.4 1236.5,885.4 1252.5,910.5 1268.5,906.0 1284.5,927.7 1300.5,906.7 1316.5,880.9 1332.5,850.9 1348.5,835.8 1364.5,830.1 1380.5,830.1 1396.5,849.6 1412.5,839.6 1428.5,873.4 1444.5,883.4 1460.5,917.2 1476.5,917.2 1492.5,913.0 1508.5,961.8 1524.5,991.1 1540.5,1005.6 1556.5,976.1 1572.5,952.3 1588.5,956.0 1604.5,958.5 1620.5,991.9 1636.5,953.5 1652.5,897.9 1668.5,911.7 1684.5,894.2 1700.5,917.7 1716.5,895.9 1732.5,870.1 1748.5,892.7 1764.5,908.0 1780.5,927.2 1796.5,882.7 1812.5,882.7 1828.5,875.9 1844.5,875.4 1860.5,872.1 1876.5,855.9 1892.5,846.6 1908.5,846.3 1924.5,845.3 1940.5,828.3 1956.5,832.6 1972.5,870.4 1988.5,889.7 2004.5,909.7 2020.5,943.5 2036.5,920.2 2052.5,920.2 2068.5,900.9 2084.5,882.2 2100.5,912.7 2116.5,916.7 2132.5,920.5 2148.5,911.0 2164.5,878.4 2180.5,897.2 2196.5,887.2 2212.5,914.0 2228.5,980.6 2244.5,936.5 2260.5,930.5 2276.5,927.2 2277.1,927.2"/><polyline points="5.5,882.7 21.5,876.4 37.5,879.2 53.5,920.5 69.5,903.7 85.5,903.5 101.5,927.5 117.5,914.0 133.5,890.2 149.5,922.7 165.5,940.5 181.5,912.2 197.5,932.3 213.5,946.8 229.5,966.1 245.5,990.5 261.5,999.9 277.5,1004.9 293.5,1010.5 309.5,989.4 325.5,932.3 341.5,888.4 357.5,872.5 373.5,856.4 389.5,858.4 405.5,905.5 421.5,900.9 437.5,896.7 453.5,951.8 469.5,972.3 485.5,939.3 501.5,939.3 517.5,954.3 533.5,957.3 549.5,957.3 565.5,930.5 581.5,932.8 597.5,952.3 613.5,989.8 629.5,993.6 645.5,996.1 661.5,1011.1 677.5,951.5 693.5,981.1 709.5,1009.4 725.5,1006.1 741.5,983.6 757.5,968.1 773.5,975.3 789.5,986.8 805.5,995.6 821.5,972.3 837.5,951.0 853.5,933.0 869.5,923.5 885.5,967.8 901.5,947.3 917.5,973.1 933.5,981.1 949.5,1004.9 965.5,1012.9 981.5,1033.7 997.5,1016.1 1013.5,971.1 1029.5,974.8 1045.5,984.8 1061.5,936.0 1077.5,917.7 1093.5,897.9 1109.5,907.7 1125.5,902.2 1141.5,912.7 1157.5,906.0 1173.5,921.0 1189.5,951.8 1205.5,897.2 1221.5,883.4 1237.5,885.4 1253.5,910.5 1269.5,906.0 1285.5,927.7 1301.5,906.7 1317.5,880.9 1333.5,850.9 1349.5,835.8 1365.5,830.1 1381.5,830.1 1397.5,849.6 1413.5,839.6 1429.5,873.4 1445.5,883.4 1461.5,917.2 1477.5,917.2 1493.5,913.0 1509.5,961.8 1525.5,991.1 1541.5,1005.6 1557.5,976.1 1573.5,952.3 1589.5,956.0 1605.5,958.5 1621.5,991.9 1637.5,953.5 1653.5,897.9 1669.5,911.7 1685.5,894.2 1701.5,917.7 1717.5,895.9 1733.5,870.1 1749.5,892.7 1765.5,908.0 1781.5,927.2 1797.5,882.7 1813.5,882.7 1829.5,875.9 1845.5,875.4 1861.5,872.1 1877.5,855.9 1893.5,846.6 1909.5,846.3 1925.5,845.3 1941.5,828.3 1957.5,832.6 1973.5,870.4 1989.5,889.7 2005.5,909.7 2021.5,943.5 2037.5,920.2 2053.5,920.2 2069.5,900.9 2085.5,882.2 2101.5,912.7 2117.5,916.7 2133.5,920.5 2149.5,911.0 2165.5,878.4 2181.5,897.2 2197.5,887.2 2213.5,914.0 2229.5,980.6 2245.5,936.5 2261.5,930.5 2277.5,927.2 2278.1,927.2"/><polyline points="4.5,883.7 20.5,877.4 36.5,880.2 52.5,921.5 68.5,904.7 84.5,904.5 100.5,928.5 116.5,915.0 132.5,891.2 148.5,923.7 164.5,941.5 180.5,913.2 196.5,933.3 212.5,947.8 228.5,967.1 244.5,991.5 260.5,1000.9 276.5,1005.9 292.5,1011.5 308.5,990.4 324.5,933.3 340.5,889.4 356.5,873.5 372.5,857.4 388.5,859.4 404.5,906.5 420.5,901.9 436.5,897.7 452.5,952.8 468.5,973.3 484.5,940.3 500.5,940.3 516.5,955.3 532.5,958.3 548.5,958.3 564.5,931.5 580.5,933.8 596.5,953.3 612.5,990.8 628.5,994.6 644.5,997.1 660.5,1012.1 676.5,952.5 692.5,982.1 708.5,1010.4 724.5,1007.1 740.5,984.6 756.5,969.1 772.5,976.3 788.5,987.8 804.5,996.6 820.5,973.3 836.5,952.0 852.5,934.0 868.5,924.5 884.5,968.8 900.5,948.3 916.5,974.1 932.5,982.1 948.5,1005.9 964.5,1013.9 980.5,1034.7 996.5,1017.1 1012.5,972.1 1028.5,975.8 1044.5,985.8 1060.5,937.0 1076.5,918.7 1092.5,898.9 1108.5,908.7 1124.5,903.2 1140.5,913.7 1156.5,907.0 1172.5,922.0 1188.5,952.8 1204.5,898.2 1220.5,884.4 1236.5,886.4 1252.5,911.5 1268.5,907.0 1284.5,928.7 1300.5,907.7 1316.5,881.9 1332.5,851.9 1348.5,836.8 1364.5,831.1 1380.5,831.1 1396.5,850.6 1412.5,840.6 1428.5,874.4 1444.5,884.4 1460.5,918.2 1476.5,918.2 1492.5,914.0 1508.5,962.8 1524.5,992.1 1540.5,1006.6 1556.5,977.1 1572.5,953.3 1588.5,957.0 1604.5,959.5 1620.5,992.9 1636.5,954.5 1652.5,898.9 1668.5,912.7 1684.5,895.2 1700.5,918.7 1716.5,896.9 1732.5,871.1 1748.5,893.7 1764.5,909.0 1780.5,928.2 1796.5,883.7 1812.5,883.7 1828.5,876.9 1844.5,876.4 1860.5,873.1 1876.5,856.9 1892.5,847.6 1908.5,847.3 1924.5,846.3 1940.5,829.3 1956.5,833.6 1972.5,871.4 1988.5,890.7 2004.5,910.7 2020.5,944.5 2036.5,921.2 2052.5,921.2 2068.5,901.9 2084.5,883.2 2100.5,913.7 2116.5,917.7 2132.5,921.5 2148.5,912.0 2164.5,879.4 2180.5,898.2 2196.5,888.2 2212.5,915.0 2228.5,981.6 2244.5,937.5 2260.5,931.5 2276.5,928.2 2277.1,928.2"/><polyline points="5.5,883.7 21.5,877.4 37.5,880.2 53.5,921.5 69.5,904.7 85.5,904.5 101.5,928.5 117.5,915.0 133.5,891.2 149.5,923.7 165.5,941.5 181.5,913.2 197.5,933.3 213.5,947.8 229.5,967.1 245.5,991.5 261.5,1000.9 277.5,1005.9 293.5,1011.5 309.5,990.4 325.5,933.3 341.5,889.4 357.5,873.5 373.5,857.4 389.5,859.4 405.5,906.5 421.5,901.9 437.5,897.7 453.5,952.8 469.5,973.3 485.5,940.3 501.5,940.3 517.5,955.3 533.5,958.3 549.5,958.3 565.5,931.5 581.5,933.8 597.5,953.3 613.5,990.8 629.5,994.6 645.5,997.1 661.5,1012.1 677.5,952.5 693.5,982.1 709.5,1010.4 725.5,1007.1 741.5,984.6 757.5,969.1 773.5,976.3 789.5,987.8 805.5,996.6 821.5,973.3 837.5,952.0 853.5,934.0 869.5,924.5 885.5,968.8 901.5,948.3 917.5,974.1 933.5,982.1 949.5,1005.9 965.5,1013.9 981.5,1034.7 997.5,1017.1 1013.5,972.1 1029.5,975.8 1045.5,985.8 1061.5,937.0 1077.5,918.7 1093.5,898.9 1109.5,908.7 1125.5,903.2 1141.5,913.7 1157.5,907.0 1173.5,922.0 1189.5,952.8 1205.5,898.2 1221.5,884.4 1237.5,886.4 1253.5,911.5 1269.5,907.0 1285.5,928.7 1301.5,907.7 1317.5,881.9 1333.5,851.9 1349.5,836.8 1365.5,831.1 1381.5,831.1 1397.5,850.6 1413.5,840.6 1429.5,874.4 1445.5,884.4 1461.5,918.2 1477.5,918.2 1493.5,914.0 1509.5,962.8 1525.5,992.1 1541.5,1006.6 1557.5,977.1 1573.5,953.3 1589.5,957.0 1605.5,959.5 1621.5,992.9 1637.5,954.5 1653.5,898.9 1669.5,912.7 1685.5,895.2 1701.5,918.7 1717.5,896.9 1733.5,871.1 1749.5,893.7 1765.5,909.0 1781.5,928.2 1797.5,883.7 1813.5,883.7 1829.5,876.9 1845.5,876.4 1861.5,873.1 1877.5,856.9 1893.5,847.6 1909.5,847.3 1925.5,846.3 1941.5,829.3 1957.5,833.6 1973.5,871.4 1989.5,890.7 2005.5,910.7 2021.5,944.5 2037.5,921.2 2053.5,921.2 2069.5,901.9 2085.5,883.2 2101.5,913.7 2117.5,917.7 2133.5,921.5 2149.5,912.0 2165.5,879.4 2181.5,898.2 2197.5,888.2 2213.5,915.0 2229.5,981.6 2245.5,937.5 2261.5,931.5 2277.5,928.2 2278.1,928.2"/></g>
<rect x="4" y="4" width="2322" height="1" fill="#fff"/><rect x="4" y="731" width="2322" height="1" fill="#fff"/><rect x="4" y="4" width="1" height="728" fill="#fff"/><rect x="2325" y="4" width="1" height="1092" fill="#fff"/><rect x="4" y="733" width="2322" height="1" fill="#fff"/><rect x="4" y="1095" width="2322" height="1" fill="#fff"/><rect x="4" y="733" width="1" height="363" fill="#fff"/>
<rect x="2327" y="412" width="38" height="11" fill="#fff"/>
<polygon points="8,11 15,11 11.5,15" fill="#fff"/>
</g>
<text x="20" y="16" textLength="201.30" lengthAdjust="spacingAndGlyphs">XAUUSD,H1&#160;&#160;3999.82 4005.37 3991.19 4001.38</text>
<text class="h1" x="2262.1" y="55" textLength="31.7" lengthAdjust="spacingAndGlyphs">H</text><text class="h1" x="2294.6" y="55">1</text>
<rect x="2296" y="51" width="9.8" height="6" fill="#000"/><rect x="2310.2" y="51" width="10" height="6" fill="#000"/>
<text x="9" y="746" textLength="64.00" lengthAdjust="spacingAndGlyphs">RSI(9) 46.5157</text>
<text x="2331" y="39" textLength="33.30" lengthAdjust="spacingAndGlyphs">4149.90</text><text x="2331" y="72" textLength="33.30" lengthAdjust="spacingAndGlyphs">4136.95</text><text x="2331" y="105" textLength="33.30" lengthAdjust="spacingAndGlyphs">4124.35</text><text x="2331" y="138" textLength="33.30" lengthAdjust="spacingAndGlyphs">4111.40</text><text x="2331" y="171" textLength="33.30" lengthAdjust="spacingAndGlyphs">4098.80</text><text x="2331" y="204" textLength="33.30" lengthAdjust="spacingAndGlyphs">4085.85</text><text x="2331" y="237" textLength="33.30" lengthAdjust="spacingAndGlyphs">4072.90</text><text x="2331" y="270" textLength="33.30" lengthAdjust="spacingAndGlyphs">4060.30</text><text x="2331" y="303" textLength="33.30" lengthAdjust="spacingAndGlyphs">4047.35</text><text x="2331" y="336" textLength="33.30" lengthAdjust="spacingAndGlyphs">4034.40</text><text x="2331" y="369" textLength="33.30" lengthAdjust="spacingAndGlyphs">4021.80</text><text x="2331" y="402" textLength="33.30" lengthAdjust="spacingAndGlyphs">4008.85</text><text x="2331" y="435" textLength="33.30" lengthAdjust="spacingAndGlyphs">3995.90</text><text x="2331" y="468" textLength="33.30" lengthAdjust="spacingAndGlyphs">3983.30</text><text x="2331" y="501" textLength="33.30" lengthAdjust="spacingAndGlyphs">3970.35</text><text x="2331" y="534" textLength="33.30" lengthAdjust="spacingAndGlyphs">3957.75</text><text x="2331" y="567" textLength="33.30" lengthAdjust="spacingAndGlyphs">3944.80</text><text x="2331" y="600" textLength="33.30" lengthAdjust="spacingAndGlyphs">3931.85</text><text x="2331" y="633" textLength="33.30" lengthAdjust="spacingAndGlyphs">3919.25</text><text x="2331" y="666" textLength="33.30" lengthAdjust="spacingAndGlyphs">3906.30</text><text x="2331" y="699" textLength="33.30" lengthAdjust="spacingAndGlyphs">3893.35</text><text x="2331" y="732" textLength="33.30" lengthAdjust="spacingAndGlyphs">3880.75</text>
<text class="k" x="2331" y="421" textLength="33.30" lengthAdjust="spacingAndGlyphs">4001.38</text>
<text x="2329" y="744" textLength="16.02" lengthAdjust="spacingAndGlyphs">100</text><text x="2329" y="810" textLength="10.68" lengthAdjust="spacingAndGlyphs">80</text><text x="2329" y="918" textLength="10.68" lengthAdjust="spacingAndGlyphs">50</text><text x="2329" y="1026" textLength="10.68" lengthAdjust="spacingAndGlyphs">20</text><text x="2329" y="1092" textLength="5.34" lengthAdjust="spacingAndGlyphs">0</text>
<text x="4" y="1108" textLength="51.50" lengthAdjust="spacingAndGlyphs">24 Oct 2025</text><text x="68" y="1108" textLength="54.17" lengthAdjust="spacingAndGlyphs">24 Oct 04:00</text><text x="132" y="1108" textLength="54.17" lengthAdjust="spacingAndGlyphs">24 Oct 08:00</text><text x="196" y="1108" textLength="54.17" lengthAdjust="spacingAndGlyphs">24 Oct 12:00</text><text x="260" y="1108" textLength="54.17" lengthAdjust="spacingAndGlyphs">24 Oct 16:00</text><text x="324" y="1108" textLength="54.17" lengthAdjust="spacingAndGlyphs">24 Oct 20:00</text><text x="388" y="1108" textLength="54.17" lengthAdjust="spacingAndGlyphs">25 Oct 00:00</text><text x="452" y="1108" textLength="54.17" lengthAdjust="spacingAndGlyphs">27 Oct 06:00</text><text x="516" y="1108" textLength="54.17" lengthAdjust="spacingAndGlyphs">27 Oct 10:00</text><text x="580" y="1108" textLength="54.17" lengthAdjust="spacingAndGlyphs">27 Oct 14:00</text><text x="644" y="1108" textLength="54.17" lengthAdjust="spacingAndGlyphs">27 Oct 18:00</text><text x="708" y="1108" textLength="54.17" lengthAdjust="spacingAndGlyphs">27 Oct 22:00</text><text x="772" y="1108" textLength="54.17" lengthAdjust="spacingAndGlyphs">28 Oct 02:00</text><text x="836" y="1108" textLength="54.17" lengthAdjust="spacingAndGlyphs">28 Oct 07:00</text><text x="900" y="1108" textLength="54.17" lengthAdjust="spacingAndGlyphs">28 Oct 11:00</text><text x="964" y="1108" textLength="54.17" lengthAdjust="spacingAndGlyphs">28 Oct 15:00</text><text x="1028" y="1108" textLength="54.17" lengthAdjust="spacingAndGlyphs">28 Oct 19:00</text><text x="1092" y="1108" textLength="54.17" lengthAdjust="spacingAndGlyphs">28 Oct 23:00</text><text x="1156" y="1108" textLength="54.17" lengthAdjust="spacingAndGlyphs">29 Oct 03:00</text><text x="1220" y="1108" textLength="54.17" lengthAdjust="spacingAndGlyphs">29 Oct 08:00</text><text x="1284" y="1108" textLength="54.17" lengthAdjust="spacingAndGlyphs">29 Oct 12:00</text><text x="1348" y="1108" textLength="54.17" lengthAdjust="spacingAndGlyphs">29 Oct 16:00</text><text x="1412" y="1108" textLength="54.17" lengthAdjust="spacingAndGlyphs">29 Oct 20:00</text><text x="1476" y="1108" textLength="54.17" lengthAdjust="spacingAndGlyphs">30 Oct 00:00</text><text x="1540" y="1108" textLength="54.17" lengthAdjust="spacingAndGlyphs">30 Oct 04:00</text><text x="1604" y="1108" textLength="54.17" lengthAdjust="spacingAndGlyphs">30 Oct 09:00</text><text x="1668" y="1108" textLength="54.17" lengthAdjust="spacingAndGlyphs">30 Oct 13:00</text><text x="1732" y="1108" textLength="54.17" lengthAdjust="spacingAndGlyphs">30 Oct 17:00</text><text x="1796" y="1108" textLength="54.17" lengthAdjust="spacingAndGlyphs">30 Oct 21:00</text><text x="1860" y="1108" textLength="54.17" lengthAdjust="spacingAndGlyphs">31 Oct 01:00</text><text x="1924" y="1108" textLength="54.17" lengthAdjust="spacingAndGlyphs">31 Oct 05:00</text><text x="1988" y="1108" textLength="54.17" lengthAdjust="spacingAndGlyphs">31 Oct 09:00</text><text x="2052" y="1108" textLength="54.17" lengthAdjust="spacingAndGlyphs">31 Oct 13:00</text><text x="2116" y="1108" textLength="54.17" lengthAdjust="spacingAndGlyphs">31 Oct 17:00</text><text x="2180" y="1108" textLength="54.17" lengthAdjust="spacingAndGlyphs">31 Oct 21:00</text><text x="2244" y="1108" textLength="50.97" lengthAdjust="spacingAndGlyphs">1 Nov 01:00</text>
</svg>
</body></html>
